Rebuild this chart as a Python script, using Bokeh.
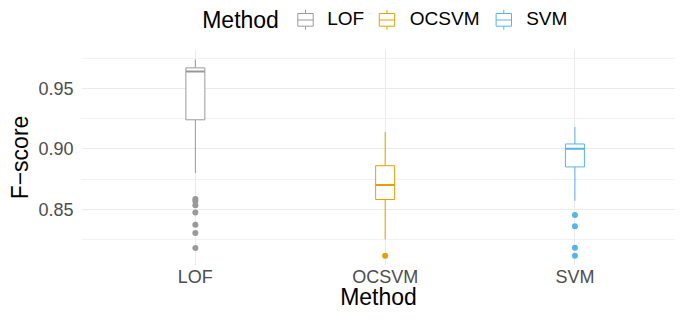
from bokeh.plotting import figure
from bokeh.layouts import column
from bokeh.models import Range1d, FixedTicker
from bokeh.core.properties import value
from bokeh.embed import file_html
from bokeh.resources import INLINE

# ---------------- data ----------------
methods = ["LOF", "OCSVM", "SVM"]
colors = ["#999999", "#E69F00", "#56B4E9"]
lower_whisker = [0.880, 0.825, 0.857]
q1 = [0.924, 0.858, 0.885]
median = [0.964, 0.870, 0.900]
q3 = [0.967, 0.886, 0.904]
upper_whisker = [0.974, 0.914, 0.918]
outliers_lof = [0.8584, 0.8567, 0.8533, 0.8473, 0.8371, 0.8303, 0.8179]
outliers_ocsvm = [0.8115]
outliers_svm = [0.8453, 0.8358, 0.8181, 0.8115]
y_ticks = [0.85, 0.90, 0.95]
y_tick_labels = ["0.85", "0.90", "0.95"]
y_minor = [0.825, 0.875, 0.925, 0.975]

FONT = "Liberation Sans"
W = 675
LEG_H = 38
MAIN_H = 274
BOX_HALF = 0.05
FRAME_L = 81

xpos = [i + 1 for i in range(len(methods))]

# ---------------- main panel ----------------
p = figure(width=W, height=MAIN_H, output_backend="svg", toolbar_location=None,
           title=None,
           x_range=Range1d(0.4, 3.53), y_range=Range1d(0.8034, 0.9822),
           min_border_left=FRAME_L, min_border_right=0, min_border_top=11,
           min_border_bottom=0, x_axis_label="Method", y_axis_label="F\u2212score")
p.outline_line_color = None
p.background_fill_color = "white"
p.border_fill_color = "white"

xt = FixedTicker(ticks=xpos)
yt = FixedTicker(ticks=y_ticks, minor_ticks=y_minor)
p.xaxis.ticker = xt
p.yaxis.ticker = yt
p.xgrid.ticker = xt
p.ygrid.ticker = yt
p.xaxis.major_label_overrides = {x: m for x, m in zip(xpos, methods)}
p.yaxis.major_label_overrides = {t: l for t, l in zip(y_ticks, y_tick_labels)}

for ax in (p.xaxis, p.yaxis):
    ax.axis_line_color = None
    ax.major_tick_line_color = None
    ax.minor_tick_line_color = None
    ax.major_tick_in = 0
    ax.major_tick_out = 0
    ax.minor_tick_in = 0
    ax.minor_tick_out = 0
    ax.major_label_text_font = FONT
    ax.major_label_text_font_size = "18px"
    ax.major_label_text_color = "#4D4D4D"
    ax.axis_label_text_font = FONT
    ax.axis_label_text_font_size = "23px"
    ax.axis_label_text_font_style = "normal"
    ax.axis_label_text_color = "black"
p.xaxis.major_label_standoff = 1
p.xaxis.axis_label_standoff = -6
p.yaxis.major_label_standoff = 8
p.yaxis.axis_label_standoff = 2

p.xgrid.grid_line_color = "#EBEBEB"
p.ygrid.grid_line_color = "#EBEBEB"
p.ygrid.minor_grid_line_color = "#EFEFEF"
p.xgrid.grid_line_width = 1
p.ygrid.grid_line_width = 1
p.ygrid.minor_grid_line_width = 0.8

left = [x - BOX_HALF for x in xpos]
right = [x + BOX_HALF for x in xpos]

p.segment(x0=xpos, y0=lower_whisker, x1=xpos, y1=q1, line_color=colors, line_width=1)
p.segment(x0=xpos, y0=q3, x1=xpos, y1=upper_whisker, line_color=colors, line_width=1)
p.quad(left=left, right=right, bottom=q1, top=q3, fill_color="white",
       line_color=colors, line_width=1)
p.segment(x0=left, y0=median, x1=right, y1=median, line_color=colors, line_width=2)

for i, outs in enumerate([outliers_lof, outliers_ocsvm, outliers_svm]):
    p.scatter(x=[xpos[i]] * len(outs), y=outs, size=6, color=colors[i], line_width=0)

# ---------------- legend strip (data units = canvas pixels) ----------------
lg = figure(width=W, height=LEG_H, output_backend="svg", toolbar_location=None,
            title=None,
            x_range=Range1d(FRAME_L, W), y_range=Range1d(LEG_H, 0),
            x_axis_type=None, y_axis_type=None,
            min_border_left=FRAME_L, min_border_right=0, min_border_top=0, min_border_bottom=0)
lg.outline_line_color = None
lg.grid.visible = False
lg.background_fill_color = "white"
lg.border_fill_color = "white"

key_cx = [305, 386.5, 503.3]
label_x = [326.7, 409.3, 525.7]
kh = 7.7
lg.text(x=[201.7], y=[19.7], text=["Method"], text_font=value(FONT),
        text_font_size="23px", text_color="black", text_baseline="alphabetic")
lg.segment(x0=key_cx, y0=[9.3] * 3, x1=key_cx, y1=[29.3] * 3, line_color=colors, line_width=1)
lg.quad(left=[c - kh for c in key_cx], right=[c + kh for c in key_cx],
        top=[13.0] * 3, bottom=[25.7] * 3, fill_color="white", line_color=colors, line_width=1)
lg.segment(x0=[c - kh for c in key_cx], y0=[19.5] * 3, x1=[c + kh for c in key_cx],
           y1=[19.5] * 3, line_color=colors, line_width=1)
lg.text(x=label_x, y=[18] * 3, text=methods, text_font=value(FONT),
        text_font_size="19px", text_color="black", text_baseline="alphabetic")

layout = column(lg, p)
open("out.html", "w").write(file_html(layout, INLINE))
